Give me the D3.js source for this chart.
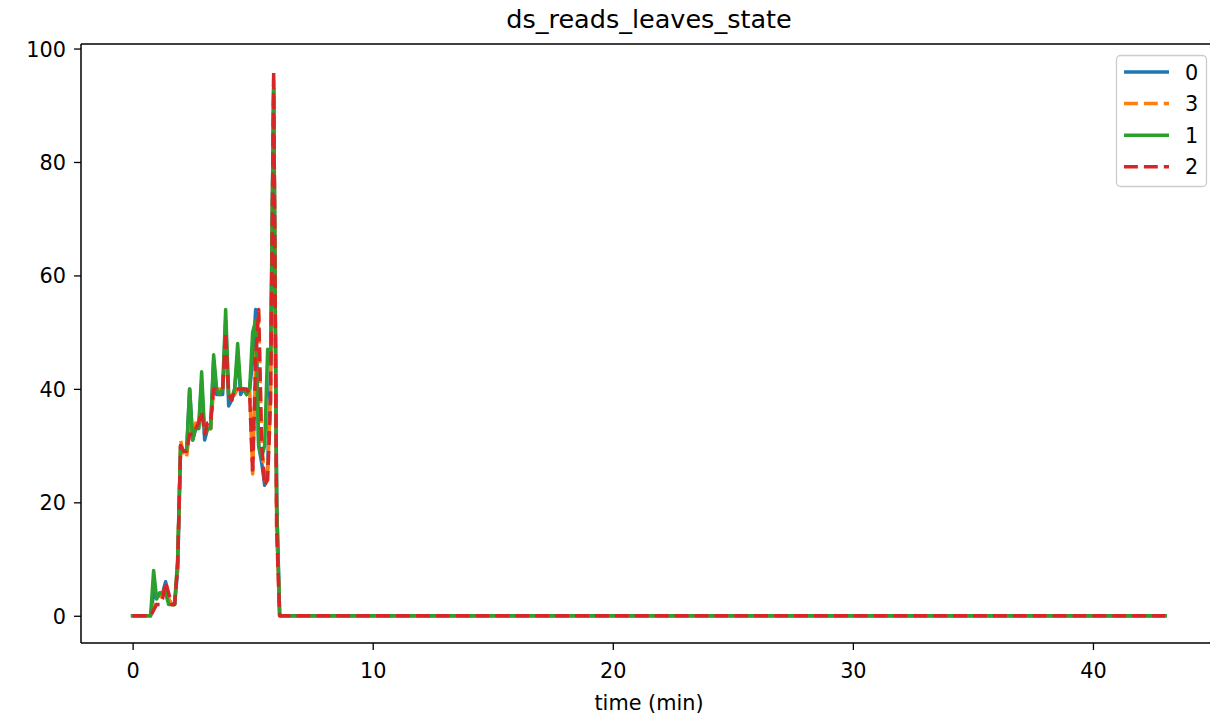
<!DOCTYPE html>
<html><head><meta charset="utf-8">
<script src="https://cdn.jsdelivr.net/npm/d3@7"></script>
<style>body{margin:0;background:#fff;} svg{display:block;font-family:"DejaVu Sans",sans-serif;}</style>
</head><body>
<script>
const times = [0, 0.75, 0.875, 1.0, 1.125, 1.25, 1.375, 1.5, 1.625, 1.75, 1.875, 2.0, 2.125, 2.25, 2.375, 2.5, 2.625, 2.75, 2.875, 3.0, 3.125, 3.25, 3.375, 3.5, 3.625, 3.75, 3.875, 4.0, 4.125, 4.25, 4.375, 4.5, 4.625, 4.75, 4.875, 5.0, 5.125, 5.25, 5.375, 5.5, 5.625, 5.75, 5.875, 6.0, 6.125, 43];
const series0 = [0,0,4,3,4,4,6,3,2,2,8,30,29,29,40,31,33,33,41,31,33,33,45,39,39,39,52,37,38,40,46,39,40,39,40,45,54,30,27,23,26,45,93,20,0,0];
const series3 = [0,0,2,2,3,4,5,3,2,2,9,31,28,28,33,32,34,34,37,33,34,33,40,40,40,40,48,39,38,39,40,40,40,40,40,25,45,53,30,24,25,40,95,15,0,0];
const series1 = [0,0,8,3,4,4,4,2,2,2,10,30,29,29,40,31,33,33,43,32,33,33,46,40,39,40,54,39,38,40,48,40,40,39,40,50,52,30,28,30,47,45,93,20,0,0];
const series2 = [0,0,1,2,2,3,6,4,2,2,9,30,29,29,32,32,33,34,36,32,34,34,40,40,40,40,50,39,38,40,40,40,40,40,39,25,45,54,30,23,24,38,96,15,0,0];
const seriesNames = ["0","3","1","2"];
const seriesValues = [series0, series3, series1, series2];
const seriesColors = ["#1f77b4","#ff7f0e","#2ca02c","#d62728"];
const seriesDashed = [false, true, false, true];
const xTicks = [0,10,20,30,40];
const yTicks = [0,20,40,60,80,100];

const W = 1210, H = 720;
const L = 81, T = 44, B = 643;
const FS = 20.8;
const svg = d3.select("body").append("svg").attr("width", W).attr("height", H);
const x = d3.scaleLinear().domain([-2.15, 45.15]).range([L, 1216.6]);
const y = d3.scaleLinear().domain([-4.8, 100.8]).range([B, T]);

svg.append("defs").append("clipPath").attr("id","clip")
  .append("rect").attr("x",L).attr("y",T).attr("width",1216.6-L).attr("height",B-T);

const line = d3.line().x(d => x(d[0])).y(d => y(d[1]));
const g = svg.append("g").attr("clip-path","url(#clip)");
seriesValues.forEach((vals, i) => {
  g.append("path")
    .datum(times.map((t, k) => [t, vals[k]]))
    .attr("d", line)
    .attr("fill","none")
    .attr("stroke", seriesColors[i])
    .attr("stroke-width", 3.5)
    .attr("stroke-linejoin","round")
    .attr("stroke-linecap", seriesDashed[i] ? "butt" : "square")
    .attr("stroke-dasharray", seriesDashed[i] ? "13.9,6" : null);
});

// axes
const xAxis = svg.append("g").attr("transform",`translate(0,${B})`)
  .call(d3.axisBottom(x).tickValues(xTicks).tickSize(7).tickPadding(6).tickFormat(d3.format("d")));
const yAxis = svg.append("g").attr("transform",`translate(${L},0)`)
  .call(d3.axisLeft(y).tickValues(yTicks).tickSize(7).tickPadding(8).tickFormat(d3.format("d")));
[xAxis, yAxis].forEach(a => {
  a.select(".domain").remove();
  a.selectAll(".tick line").attr("stroke","#000").attr("stroke-width",1.3);
  a.selectAll(".tick text").attr("font-size",FS).attr("fill","#000").attr("font-family","DejaVu Sans");
});
xAxis.selectAll(".tick text").attr("dy", null).attr("y", 35 - 0).attr("dominant-baseline", null);
yAxis.selectAll(".tick text").attr("dy", "0.36em");
// spines
svg.append("line").attr("x1",L).attr("x2",L).attr("y1",T).attr("y2",B).attr("stroke","#000").attr("stroke-width",1.5);
svg.append("line").attr("x1",L).attr("x2",W).attr("y1",B).attr("y2",B).attr("stroke","#000").attr("stroke-width",1.5);
svg.append("line").attr("x1",L).attr("x2",W).attr("y1",T).attr("y2",T).attr("stroke","#000").attr("stroke-width",1.5);

svg.append("text").attr("x",649).attr("y",28).attr("text-anchor","middle")
  .attr("font-size",25.5).text("ds_reads_leaves_state");
svg.append("text").attr("x",649).attr("y",710).attr("text-anchor","middle")
  .attr("font-size",FS).text("time (min)");

// legend
const lg = svg.append("g");
lg.append("rect").attr("x",1116.5).attr("y",55.5).attr("width",90).attr("height",131)
  .attr("rx",4).attr("fill","#fff").attr("fill-opacity",0.8).attr("stroke","#cccccc").attr("stroke-width",1.3);
seriesNames.forEach((n, i) => {
  const yy = 72 + i * 31.6;
  lg.append("line").attr("x1",1124).attr("x2",1169).attr("y1",yy).attr("y2",yy)
    .attr("stroke",seriesColors[i]).attr("stroke-width",3.5)
    .attr("stroke-dasharray", seriesDashed[i] ? "13.9,6" : null);
  lg.append("text").attr("x",1185).attr("y",yy+7.5).attr("font-size",FS).text(n);
});
</script>
</body></html>
